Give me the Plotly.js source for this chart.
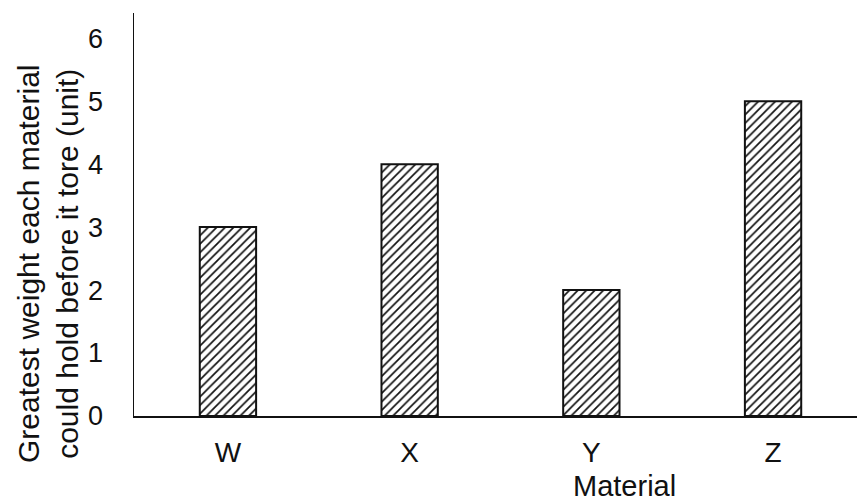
<!DOCTYPE html>
<html>
<head>
<meta charset="utf-8">
<script src="https://cdn.plot.ly/plotly-3.0.1.min.js"></script>
<style>
  html, body { margin: 0; padding: 0; background: #fff; }
  #chart { width: 859px; height: 504px; }
</style>
</head>
<body>
<div id="chart"></div>
<script>
const categories = ['W', 'X', 'Y', 'Z'];
const values = [3, 4, 2, 5];
const yTickValues = [0, 1, 2, 3, 4, 5, 6];
const yTitleLines = ['Greatest weight each material', 'could hold before it tore (unit)'];
const xTitleText = 'Material';

const FONT = 'Liberation Sans, Arial, Helvetica, sans-serif';

const trace = {
  type: 'bar',
  x: categories,
  y: values,
  width: 0.31,
  marker: {
    color: 'white',
    line: { color: '#111', width: 2 },
    pattern: { shape: '/', size: 6, solidity: 0.28, fgcolor: '#111', bgcolor: 'white', fillmode: 'replace' }
  },
  hoverinfo: 'none'
};

const layout = {
  width: 859,
  height: 504,
  margin: { l: 134, r: 2, t: 13, b: 88 },
  paper_bgcolor: 'white',
  plot_bgcolor: 'white',
  showlegend: false,
  font: { family: FONT, color: '#111' },
  xaxis: {
    type: 'category',
    range: [-0.517, 3.462],
    showline: true,
    linecolor: '#111',
    linewidth: 1.5,
    ticks: '',
    showgrid: false,
    zeroline: false,
    tickfont: { family: FONT, size: 28, color: '#111' },
    ticklabelstandoff: 11
  },
  yaxis: {
    range: [0, 6.4],
    tickvals: yTickValues,
    ticktext: yTickValues.map(String),
    showline: true,
    linecolor: '#111',
    linewidth: 1.5,
    ticks: '',
    showgrid: false,
    zeroline: false,
    tickfont: { family: FONT, size: 27, color: '#111' },
    ticklabelstandoff: 24
  },
  annotations: [
    {
      text: yTitleLines.join('<br>'),
      xref: 'paper', yref: 'paper',
      x: 0, y: 0,
      xshift: -86, yshift: 152,
      xanchor: 'center', yanchor: 'middle',
      textangle: -90,
      showarrow: false,
      font: { family: FONT, size: 30, color: '#111' }
    },
    {
      text: xTitleText,
      xref: 'paper', yref: 'paper',
      x: 0, y: 0,
      xshift: 490, yshift: -88,
      xanchor: 'center', yanchor: 'bottom',
      showarrow: false,
      font: { family: FONT, size: 29, color: '#111' }
    }
  ]
};

Plotly.newPlot('chart', [trace], layout, { staticPlot: true, displayModeBar: false });
</script>
</body>
</html>
